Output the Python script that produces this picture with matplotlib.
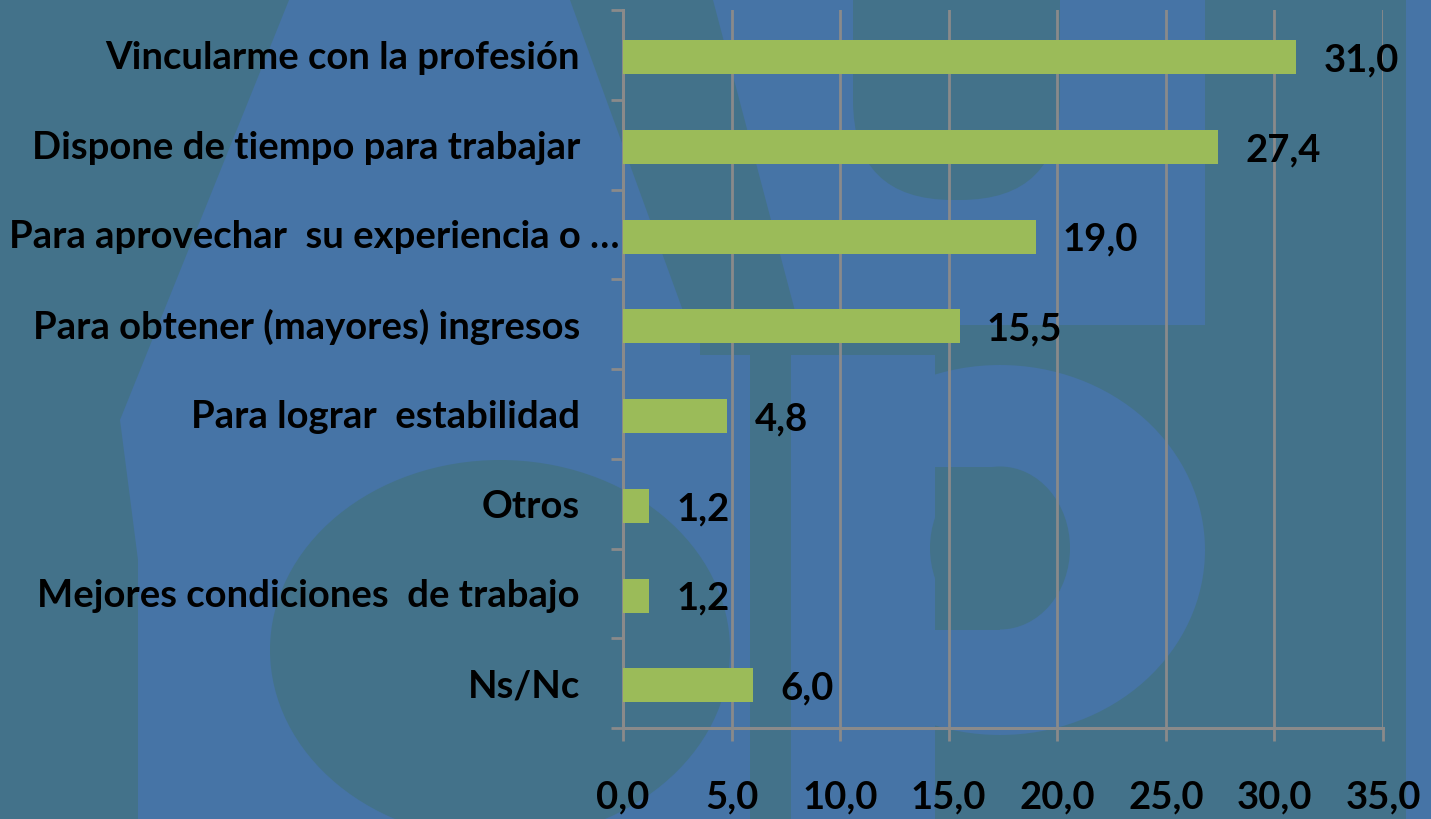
import numpy as np
import matplotlib.pyplot as plt
from matplotlib.patches import Polygon, Ellipse, Rectangle, FancyBboxPatch
from matplotlib.transforms import ScaledTranslation

# data
categorias = ['Vincularme con la profesión',
              'Dispone de tiempo para trabajar',
              'Para aprovechar  su experiencia o …',
              'Para obtener (mayores) ingresos',
              'Para lograr  estabilidad',
              'Otros',
              'Mejores condiciones  de trabajo',
              'Ns/Nc']
valores = [31.0, 27.4, 19.0, 15.5, 4.8, 1.2, 1.2, 6.0]
xticks = [0, 5, 10, 15, 20, 25, 30, 35]

fondo = '#4674a6'
sombra = '#43728a'
verde = '#9bbb59'
gris = '#8a8a8a'

plt.rcParams['font.family'] = ['Lato', 'DejaVu Sans']
plt.rcParams['font.weight'] = 'bold'
fs = 27.5

W, H = 1431, 819
fig = plt.figure(figsize=(W / 100, H / 100), dpi=100)
fig.patch.set_facecolor(fondo)

# faint logo watermark behind the chart (pixel coords, y down)
bg = fig.add_axes([0, 0, 1, 1], zorder=-10)
bg.set_xlim(0, W)
bg.set_ylim(H, 0)
bg.axis('off')
kw = dict(lw=0)
bg.add_patch(Polygon([[0, 0], [289, 0], [120, 420], [138, 560], [138, 819], [0, 819]], closed=True, color=sombra, **kw))
bg.add_patch(Ellipse((500, 650), 460, 380, color=sombra, **kw))
bg.add_patch(Polygon([[570, 0], [713, 0], [800, 330], [690, 330]], closed=True, color=sombra, **kw))
bg.add_patch(FancyBboxPatch((853, -120), 207, 320, boxstyle='round,pad=0,rounding_size=100', color=sombra, **kw))
bg.add_patch(Rectangle((700, 325), 505, 30, color=sombra, **kw))
bg.add_patch(Rectangle((750, 325), 41, 500, color=sombra, **kw))
bg.add_patch(Rectangle((935, 355), 471, 470, color=sombra, **kw))
bg.add_patch(Rectangle((1205, 0), 201, 819, color=sombra, **kw))
bg.add_patch(Ellipse((1000, 550), 410, 370, color=fondo, **kw))
bg.add_patch(Rectangle((791, 355), 144, 470, color=fondo, **kw))
bg.add_patch(Rectangle((935, 467), 65, 163, color=sombra, **kw))
bg.add_patch(Ellipse((1000, 548), 140, 163, color=sombra, **kw))

x0, x1 = 623, 1383
y0, y1 = 10, 728
ax = fig.add_axes([x0 / W, 1 - y1 / H, (x1 - x0) / W, (y1 - y0) / H])
ax.patch.set_alpha(0)

pos = np.arange(len(categorias))
ax.barh(pos + 0.025, valores, height=0.38, color=verde, zorder=3)
ax.set_ylim(len(categorias) - 0.5, -0.5)
ax.set_xlim(0, 35)

for p, v in zip(pos, valores):
    ax.text(v + 1.25, p + 0.06, f'{v:.1f}'.replace('.', ','), va='center', ha='left',
            fontsize=fs, fontweight='bold', color='black')

ax.set_yticks(pos)
ax.set_yticklabels(categorias, fontsize=fs, fontweight='bold')
ax.set_yticks(np.arange(-0.5, len(categorias)), minor=True)
ax.tick_params(axis='y', which='major', length=0, pad=31)
ax.tick_params(axis='y', which='minor', length=9, width=2, color=gris)
# the truncated label runs up to the axis
lab = ax.get_yticklabels()[2]
lab.set_transform(lab.get_transform() + ScaledTranslation(0.40, 0, fig.dpi_scale_trans))

ax.set_xticks(xticks)
ax.set_xticklabels([f'{t:.1f}'.replace('.', ',') for t in xticks], fontsize=fs, fontweight='bold')
ax.tick_params(axis='x', length=9, width=2, color=gris, pad=29)
ax.grid(axis='x', color=gris, lw=2, zorder=1)

for s in ['top', 'right']:
    ax.spines[s].set_visible(False)
for s in ['left', 'bottom']:
    ax.spines[s].set_color(gris)
    ax.spines[s].set_linewidth(2.2)

fig.savefig('out.png', dpi=100, facecolor=fondo)
